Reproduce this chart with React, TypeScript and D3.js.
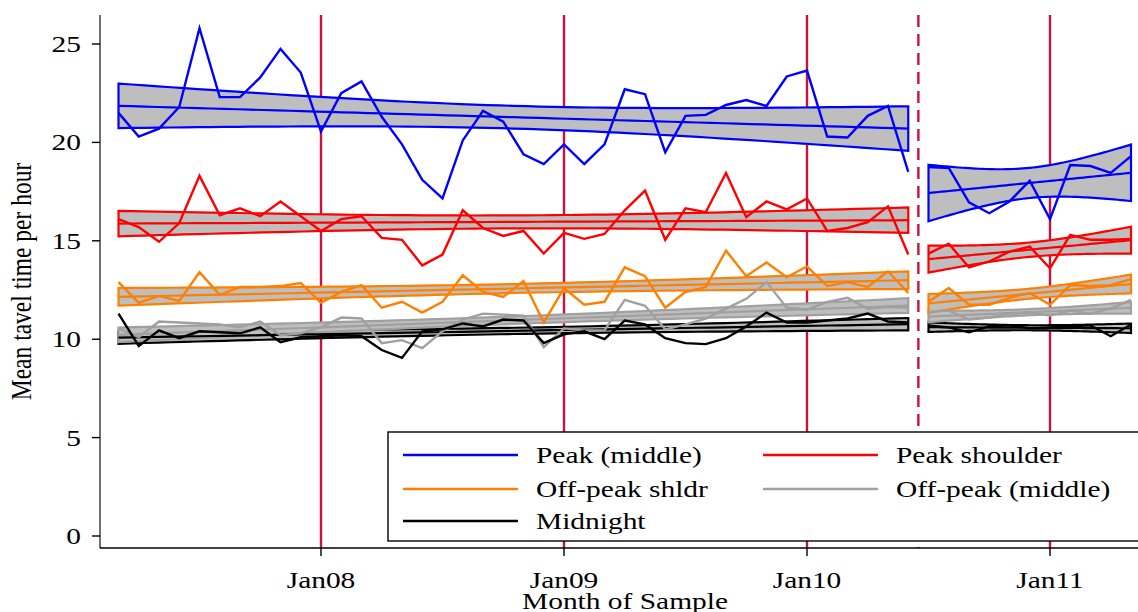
import React from "react";
import * as d3 from "d3";

// Month index: Jan 2007 = 0. Period 1: Mar07..Jun10, period 2: Jul10..May11
const period1Months = d3.range(2, 42);
const period2Months = d3.range(42, 53);
const breakMonth = 41.5;
const yearMonths = [12, 24, 36, 48];
const xTickLabels = ["Jan08", "Jan09", "Jan10", "Jan11"];
const yTicks = [0, 5, 10, 15, 20, 25];

const peakMiddle1 = [21.5, 20.3, 20.7, 21.8, 25.8, 22.3, 22.3, 23.3, 24.75, 23.55, 20.55, 22.5, 23.1, 21.3, 19.9, 18.1, 17.15, 20.1, 21.6, 21.05, 19.4, 18.9, 19.9, 18.9, 19.9, 22.7, 22.45, 19.5, 21.35, 21.4, 21.9, 22.15, 21.85, 23.35, 23.65, 20.3, 20.25, 21.35, 21.85, 18.5];
const peakMiddle2 = [18.75, 18.7, 16.95, 16.4, 17.0, 18.05, 16.1, 18.85, 18.8, 18.45, 19.3];
const peakShoulder1 = [16.1, 15.7, 14.95, 15.9, 18.3, 16.3, 16.65, 16.25, 17.0, 16.25, 15.5, 16.1, 16.25, 15.15, 15.05, 13.75, 14.3, 16.55, 15.65, 15.25, 15.5, 14.35, 15.4, 15.1, 15.35, 16.55, 17.55, 15.05, 16.65, 16.45, 18.45, 16.2, 17.0, 16.6, 17.15, 15.5, 15.65, 15.95, 16.75, 14.3];
const peakShoulder2 = [14.35, 14.85, 13.65, 13.95, 14.45, 14.7, 13.6, 15.3, 15.05, 15.05, 15.1];
const offPeakShldr1 = [12.9, 11.85, 12.2, 11.95, 13.4, 12.25, 12.65, 12.65, 12.7, 12.85, 11.85, 12.4, 12.75, 11.6, 11.9, 11.35, 11.9, 13.25, 12.4, 12.15, 12.95, 10.85, 12.6, 11.75, 11.9, 13.65, 13.2, 11.6, 12.4, 12.65, 14.5, 13.2, 13.9, 13.15, 13.7, 12.7, 12.9, 12.65, 13.45, 12.35];
const offPeakShldr2 = [11.9, 12.6, 11.75, 11.75, 12.1, 12.35, 11.75, 12.75, 12.7, 12.75, 13.05];
const offPeakMiddle1 = [10.55, 10.1, 10.9, 10.85, 10.8, 10.75, 10.6, 10.9, 10.2, 10.3, 10.6, 11.1, 11.05, 9.8, 9.95, 9.55, 10.4, 11.0, 11.3, 11.25, 11.2, 9.6, 10.55, 10.45, 10.45, 12.0, 11.7, 10.5, 10.75, 11.05, 11.55, 12.05, 12.9, 11.6, 11.5, 11.9, 12.1, 11.55, 11.65, 11.6];
const offPeakMiddle2 = [11.4, 11.45, 11.0, 11.1, 11.3, 11.35, 11.2, 11.45, 11.3, 11.55, 12.0];
const midnight1 = [11.3, 9.65, 10.45, 10.05, 10.4, 10.35, 10.3, 10.6, 9.85, 10.1, 10.15, 10.2, 10.15, 9.45, 9.05, 10.4, 10.5, 10.8, 10.65, 11.0, 10.95, 9.8, 10.25, 10.4, 10.0, 10.95, 10.75, 10.05, 9.8, 9.75, 10.05, 10.65, 11.35, 10.85, 10.85, 10.95, 11.05, 11.3, 10.9, 10.85];
const midnight2 = [10.7, 10.6, 10.35, 10.65, 10.7, 10.55, 10.6, 10.65, 10.7, 10.15, 10.75];

const seriesNames = ["Peak (middle)", "Peak shoulder", "Off-peak shldr", "Off-peak (middle)", "Midnight"];
const seriesColors = ["#0000ff", "#ff0000", "#ff8000", "#a0a0a0", "#000000"];
const seriesP1 = [peakMiddle1, peakShoulder1, offPeakShldr1, offPeakMiddle1, midnight1];
const seriesP2 = [peakMiddle2, peakShoulder2, offPeakShldr2, offPeakMiddle2, midnight2];

// two-sided 95% t critical values by degrees of freedom
const tCrit: Record<number, number> = { 38: 2.024, 9: 2.262 };

const W = 1138;
const H = 612;
const plotLeft = 100;
const plotRight = 1150;
const plotTop = 15;
const plotBottom = 548;
const SX = 1.28; // horizontal glyph stretch
const FS = 23;

const x = d3.scaleLinear().domain([0, 48]).range([78, 1050]);
const y = d3.scaleLinear().domain([0, 25]).range([536, 44]);

function fitCI(xs: number[], ys: number[]) {
  const n = xs.length;
  const mx = d3.mean(xs)!;
  const my = d3.mean(ys)!;
  let sxx = 0, sxy = 0;
  xs.forEach((xv, i) => {
    sxx += (xv - mx) ** 2;
    sxy += (xv - mx) * (ys[i] - my);
  });
  const b = sxy / sxx;
  const a = my - b * mx;
  let sse = 0;
  xs.forEach((xv, i) => {
    sse += (ys[i] - (a + b * xv)) ** 2;
  });
  const s = Math.sqrt(sse / (n - 2));
  const t = tCrit[n - 2] ?? 2;
  const grid = d3.range(0, 61).map((k) => xs[0] + ((xs[n - 1] - xs[0]) * k) / 60);
  return grid.map((g) => {
    const fit = a + b * g;
    const se = s * Math.sqrt(1 / n + (g - mx) ** 2 / sxx);
    return { m: g, fit, lo: fit - t * se, hi: fit + t * se };
  });
}

function T(props: { x: number; y: number; anchor?: string; size?: number; children: React.ReactNode }) {
  return (
    <text
      transform={`translate(${props.x},${props.y}) scale(${SX},1)`}
      textAnchor={props.anchor ?? "start"}
      fontSize={props.size ?? FS}
      fill="#000"
    >
      {props.children}
    </text>
  );
}

export default function App() {
  const line = d3
    .line<[number, number]>()
    .x((d) => x(d[0]))
    .y((d) => y(d[1]));
  const area = d3
    .area<{ m: number; lo: number; hi: number }>()
    .x((d) => x(d.m))
    .y0((d) => y(d.lo))
    .y1((d) => y(d.hi));

  const periods = [
    { months: period1Months, data: seriesP1 },
    { months: period2Months, data: seriesP2 },
  ];

  const bands: React.ReactNode[] = [];
  const fits: React.ReactNode[] = [];
  const lines: React.ReactNode[] = [];
  periods.forEach((p, pi) => {
    p.data.forEach((vals, si) => {
      const ci = fitCI(p.months, vals);
      const outline =
        line(ci.map((d) => [d.m, d.hi] as [number, number]))! +
        "L" +
        line(ci.slice().reverse().map((d) => [d.m, d.lo] as [number, number]))!.slice(1) +
        "Z";
      bands.push(
        <g key={`b${pi}-${si}`}>
          <path d={area(ci)!} fill="#bebebe" stroke="none" />
          <path d={outline} fill="none" stroke={seriesColors[si]} strokeWidth={2.2} strokeLinejoin="miter" />
        </g>
      );
      fits.push(
        <path
          key={`f${pi}-${si}`}
          d={line(ci.map((d) => [d.m, d.fit] as [number, number]))!}
          fill="none"
          stroke={seriesColors[si]}
          strokeWidth={2.2}
        />
      );
      lines.push(
        <path
          key={`l${pi}-${si}`}
          d={line(p.months.map((m, i) => [m, vals[i]] as [number, number]))!}
          fill="none"
          stroke={seriesColors[si]}
          strokeWidth={2.4}
          strokeLinejoin="miter"
        />
      );
    });
  });

  const order = [4, 3, 2, 1, 0];
  const orderedBands: React.ReactNode[] = [];
  [0, 1].forEach((pi) => order.forEach((si) => orderedBands.push(bands[pi * 5 + si])));

  const legendItems = [
    { si: 0, col: 0, row: 0 },
    { si: 1, col: 1, row: 0 },
    { si: 2, col: 0, row: 1 },
    { si: 3, col: 1, row: 1 },
    { si: 4, col: 0, row: 2 },
  ];
  const legX = [403, 763];
  const legY = [455, 489, 521];

  const font = "'Liberation Serif', 'Times New Roman', serif";

  return (
    <svg
      width={W}
      height={H}
      style={{ position: "absolute", left: 0, top: 0, background: "#fff" }}
      fontFamily={font}
    >
      <rect x={0} y={0} width={W} height={H} fill="#fff" />
      {yearMonths.map((m) => (
        <line key={m} x1={x(m)} x2={x(m)} y1={plotTop} y2={plotBottom} stroke="#c8143c" strokeWidth={2.4} />
      ))}
      <line
        x1={x(breakMonth)}
        x2={x(breakMonth)}
        y1={plotTop}
        y2={plotBottom}
        stroke="#c8143c"
        strokeWidth={2.4}
        strokeDasharray="12 7"
      />
      {orderedBands}
      {fits}
      {lines}
      <line x1={plotLeft} x2={plotLeft} y1={plotTop} y2={plotBottom} stroke="#333" strokeWidth={1.4} />
      <line x1={plotLeft} x2={plotRight} y1={plotBottom} y2={plotBottom} stroke="#000" strokeWidth={1.4} />
      {yTicks.map((t) => (
        <g key={t}>
          <line x1={plotLeft - 8} x2={plotLeft} y1={y(t)} y2={y(t)} stroke="#000" strokeWidth={1.4} />
          <T x={plotLeft - 19} y={y(t) + 8} anchor="end">
            {t}
          </T>
        </g>
      ))}
      {yearMonths.map((m, i) => (
        <g key={m}>
          <line x1={x(m)} x2={x(m)} y1={plotBottom} y2={plotBottom + 8} stroke="#000" strokeWidth={1.4} />
          <T x={x(m)} y={plotBottom + 40} anchor="middle">
            {xTickLabels[i]}
          </T>
        </g>
      ))}
      <T x={625} y={609} anchor="middle">
        Month of Sample
      </T>
      <text
        transform={`translate(31, ${(plotTop + plotBottom) / 2}) rotate(-90) scale(1, ${SX})`}
        textAnchor="middle"
        fontSize={23.5}
        fill="#000"
      >
        Mean tavel time per hour
      </text>
      <rect x={388} y={432} width={780} height={109} fill="#fff" stroke="#000" strokeWidth={1.4} />
      {legendItems.map((it) => (
        <g key={it.si}>
          <line
            x1={legX[it.col]}
            x2={legX[it.col] + 115}
            y1={legY[it.row]}
            y2={legY[it.row]}
            stroke={seriesColors[it.si]}
            strokeWidth={2.4}
          />
          <T x={legX[it.col] + 133} y={legY[it.row] + 8}>
            {seriesNames[it.si]}
          </T>
        </g>
      ))}
    </svg>
  );
}
